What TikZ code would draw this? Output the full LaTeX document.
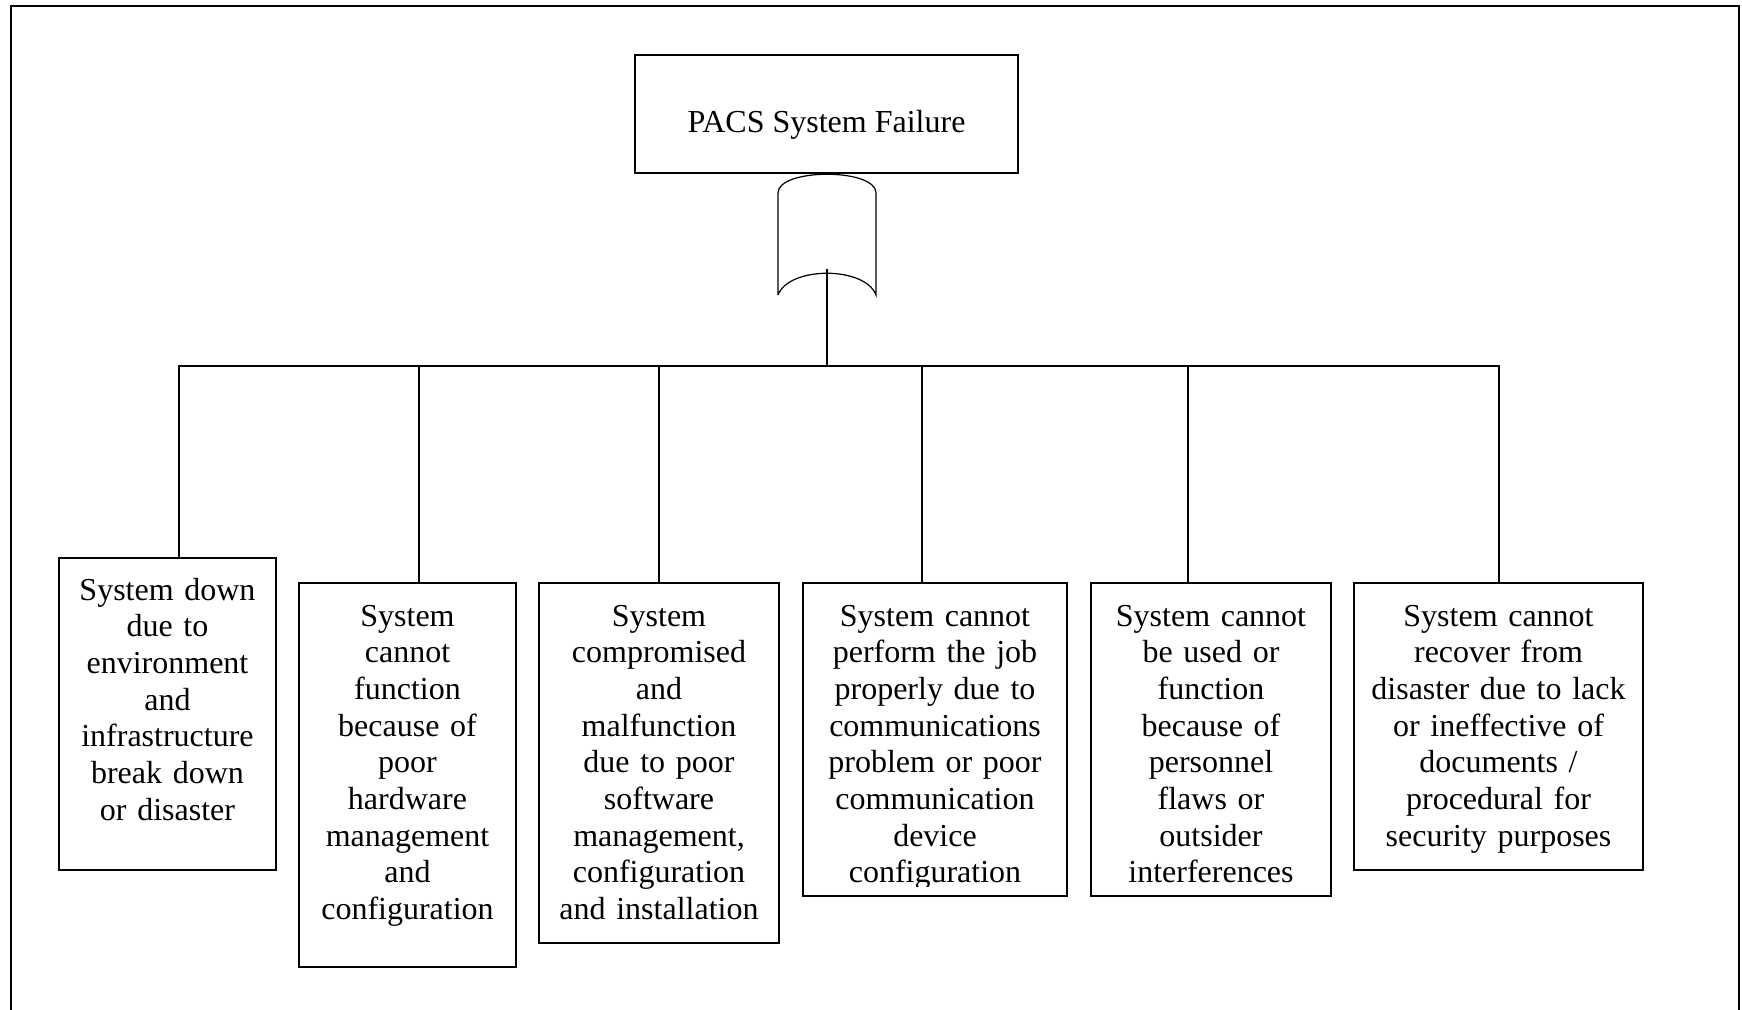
\documentclass[tikz,border=0pt]{standalone}
\usepackage{fontspec}
\setmainfont{Liberation Serif}
\usetikzlibrary{fit,calc}

\tikzset{
  wire/.style={line width=0.9pt, line cap=rect},
  framebox/.style={draw, line width=0.9pt, inner sep=0pt},
  boxtext/.style={font=\fontsize{24pt}{27.5pt}\selectfont, align=center, inner sep=0pt, anchor=base},
  leaftext/.style={boxtext, text width=#1},
}

\begin{document}
\begin{tikzpicture}[x=0.75pt, y=-0.75pt]
  \useasboundingbox (0,0) rectangle (1742,1010);

  % outer frame (open at the bottom)
  \draw[line width=1.1pt] (11,1015) -- (11,6) -- (1739,6) -- (1739,1015);

  % top event
  \coordinate (tnw) at (635,55);
  \coordinate (tse) at (1018,173);
  \node[framebox, fit=(tnw)(tse)] (top) {};
  \node[boxtext] (toptext) at (826.5,132) {PACS System Failure};

  % OR gate below the top event
  \coordinate (gl) at (778,295);
  \coordinate (gr) at (876,295);
  \draw[line width=0.9pt] (gl) -- (778,193) .. controls (778,168) and (876,168) .. (876,193)
        -- (gr) .. controls (865,266) and (789,266) .. (gl);
  \coordinate (gout) at (827,270);
  \coordinate (hub) at (827,366);
  \draw[wire] (gout) -- (hub);

  % basic events
  \coordinate (b1nw) at (59,558);   \coordinate (b1se) at (276,870);
  \coordinate (b2nw) at (299,583);  \coordinate (b2se) at (516,967);
  \coordinate (b3nw) at (539,583);  \coordinate (b3se) at (779,943);
  \coordinate (b4nw) at (803,583);  \coordinate (b4se) at (1067,896);
  \coordinate (b5nw) at (1091,583); \coordinate (b5se) at (1331,896);
  \coordinate (b6nw) at (1354,583); \coordinate (b6se) at (1643,870);
  \node[framebox, fit=(b1nw)(b1se)] (b1) {};
  \node[framebox, fit=(b2nw)(b2se)] (b2) {};
  \node[framebox, fit=(b3nw)(b3se)] (b3) {};
  \node[framebox, fit=(b4nw)(b4se)] (b4) {};
  \node[framebox, fit=(b5nw)(b5se)] (b5) {};
  \node[framebox, fit=(b6nw)(b6se)] (b6) {};

  \node[leaftext=155pt] (t1) at (167.5,600) {System down\\due to\\environment\\and\\infrastructure\\break down\\or disaster};
  \node[leaftext=155pt] (t2) at (407.5,626) {System\\cannot\\function\\because of\\poor\\hardware\\management\\and\\configuration};
  \node[leaftext=172pt] (t3) at (659,626) {System\\compromised\\and\\malfunction\\due to poor\\software\\management,\\configuration\\and installation};
  \begin{scope}
    \clip (803,583) rectangle (1067,886);
    \node[leaftext=190pt] (t4) at (935,626) {System cannot\\perform the job\\properly due to\\communications\\problem or poor\\communication\\device\\configuration};
  \end{scope}
  \node[leaftext=172pt] (t5) at (1211,626) {System cannot\\be used or\\function\\because of\\personnel\\flaws or\\outsider\\interferences};
  \node[leaftext=209pt] (t6) at (1498.5,626) {System cannot\\recover from\\disaster due to lack\\or ineffective of\\documents /\\procedural for\\security purposes};

  % distribution bus and drops
  \coordinate (j1) at (179,366);
  \coordinate (j2) at (419,366);
  \coordinate (j3) at (659,366);
  \coordinate (j4) at (922,366);
  \coordinate (j5) at (1188,366);
  \coordinate (j6) at (1499,366);
  \draw[wire] (j1) -- (j6);
  \draw[wire] (j1) -- (j1 |- b1.north);
  \draw[wire] (j2) -- (j2 |- b2.north);
  \draw[wire] (j3) -- (j3 |- b3.north);
  \draw[wire] (j4) -- (j4 |- b4.north);
  \draw[wire] (j5) -- (j5 |- b5.north);
  \draw[wire] (j6) -- (j6 |- b6.north);
\end{tikzpicture}
\end{document}
